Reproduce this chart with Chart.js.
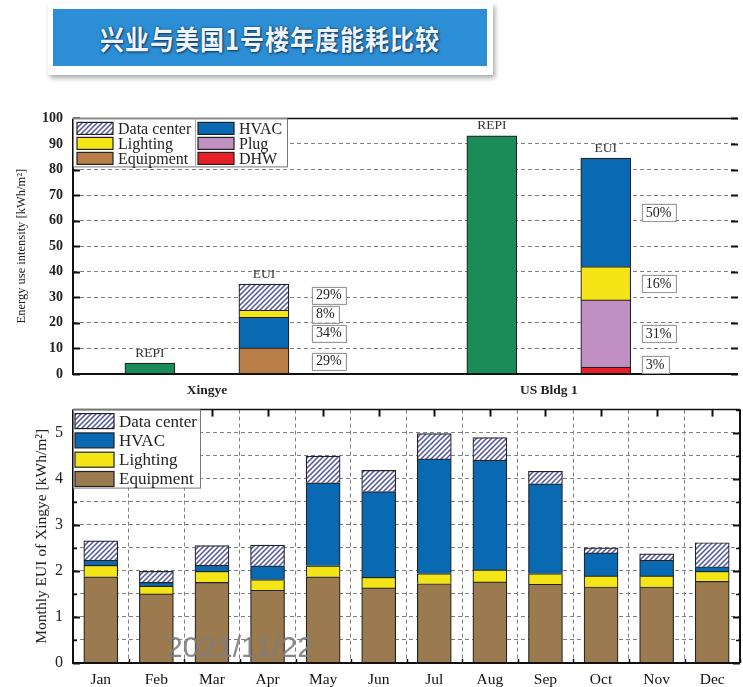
<!DOCTYPE html>
<html>
<head>
<meta charset="utf-8">
<script src="https://cdn.jsdelivr.net/npm/chart.js@4.4.0/dist/chart.umd.min.js"></script>
<style>
body { margin: 0; background: #fff; width: 743px; height: 687px; overflow: hidden; position: relative; }
#banner { position: absolute; left: 48px; top: 3px; width: 445px; height: 72px; background: #fff; box-shadow: 2px 3px 5px rgba(0,0,0,0.35); }
#banner div { position: absolute; left: 5px; top: 6px; width: 434px; height: 57px; background: #2c8fd6;
  color: #eef5ff; font: bold 24px "Noto Sans CJK SC"; text-align: center; line-height: 57px; letter-spacing: 1px;
  text-shadow: 0 0 2px #0d3a66, 1px 1px 2px #123a5e; }
#banner span { display: inline-block; transform: scaleY(1.15); }
#topChart { position: absolute; left: 0; top: 100px; }
#bottomChart { position: absolute; left: 0; top: 390px; }
#stamp { position: absolute; left: 166px; top: 632px; font: 30px "Liberation Sans"; line-height: 1; color: rgba(125,125,125,0.9); }
</style>
</head>
<body>
<div id="banner"><div><span>兴业与美国1号楼年度能耗比较</span></div></div>
<canvas id="topChart" width="743" height="300"></canvas>
<canvas id="bottomChart" width="743" height="297"></canvas>
<div id="stamp">2021/11/22</div>
<script>
// annual comparison (kWh/m2)
const groups = ['Xingye', 'US Bldg 1'];
const repiValues = [4.3, 93.2];
const xingyeParts = ['Equipment', 'HVAC', 'Lighting', 'Data center'];
const xingyeEUI = [10.2, 12.0, 2.8, 10.2];
const xingyeShare = ['29%', '34%', '8%', '29%'];
const usParts = ['DHW', 'Plug', 'Lighting', 'HVAC'];
const usEUI = [2.7, 26.3, 13.0, 42.5];
const usShare = ['3%', '31%', '16%', '50%'];
const topLegend = ['Data center', 'Lighting', 'Equipment', 'HVAC', 'Plug', 'DHW'];

// monthly Xingye (kWh/m2)
const months = ['Jan', 'Feb', 'Mar', 'Apr', 'May', 'Jun', 'Jul', 'Aug', 'Sep', 'Oct', 'Nov', 'Dec'];
const mEquipment = [1.87, 1.50, 1.75, 1.58, 1.87, 1.63, 1.72, 1.76, 1.71, 1.65, 1.65, 1.77];
const mLighting = [0.25, 0.17, 0.24, 0.23, 0.24, 0.23, 0.22, 0.26, 0.23, 0.24, 0.24, 0.22];
const mHVAC = [0.11, 0.08, 0.13, 0.30, 1.80, 1.86, 2.49, 2.38, 1.95, 0.50, 0.34, 0.10];
const mDataCenter = [0.42, 0.24, 0.43, 0.45, 0.58, 0.46, 0.55, 0.49, 0.27, 0.11, 0.14, 0.52];
const bottomLegend = ['Data center', 'HVAC', 'Lighting', 'Equipment'];

const serif = '"Liberation Serif", "DejaVu Serif", serif';

function hatch() {
    const c = document.createElement('canvas');
    c.width = 5; c.height = 5;
    const g = c.getContext('2d');
    g.fillStyle = '#fff';
    g.fillRect(0, 0, 5, 5);
    g.strokeStyle = '#4f54a6';
    g.lineWidth = 1.5;
    g.beginPath();
    g.moveTo(-1, 6); g.lineTo(6, -1);
    g.moveTo(-3.5, 3.5); g.lineTo(3.5, -3.5);
    g.moveTo(1.5, 8.5); g.lineTo(8.5, 1.5);
    g.stroke();
    return g.createPattern(c, 'repeat');
}
const dcFill = hatch();

const topColors = {
    'Data center': dcFill, 'HVAC': '#0a69b3', 'Lighting': '#f4e517',
    'Plug': '#c190c3', 'Equipment': '#b97d48', 'DHW': '#e81f27'
};
const bottomColors = {
    'Data center': dcFill, 'HVAC': '#0a69b3', 'Lighting': '#f4e517', 'Equipment': '#9c7a4f'
};

// inward ticks + frame
const framePlugin = {
    id: 'frame',
    afterDatasetsDraw(chart, args, opts) {
        const ctx = chart.ctx, a = chart.chartArea, y = chart.scales.y, x = chart.scales.x;
        const line = (x1, y1, x2, y2) => { ctx.beginPath(); ctx.moveTo(x1, y1); ctx.lineTo(x2, y2); ctx.stroke(); };
        ctx.save();
        ctx.strokeStyle = '#111';
        y.ticks.forEach(t => {
            const py = Math.round(y.getPixelForValue(t.value)) + 0.5;
            const major = t.label !== '';
            ctx.lineWidth = major ? 2 : 1.5;
            const len = major ? 7 : 4;
            line(a.left, py, a.left + len, py);
            line(a.right, py, a.right - len, py);
        });
        if (opts.monthTicks) {
            x.ticks.forEach((t, i) => {
                const px = Math.round(x.getPixelForValue(i)) + 0.5;
                ctx.lineWidth = 2;
                line(px, a.top, px, a.top + 7);
                const bx = Math.round(px + (x.getPixelForValue(1) - x.getPixelForValue(0)) / 2) + 0.5;
                ctx.lineWidth = 1.5;
                line(bx, a.bottom, bx, a.bottom - 4);
            });
        }
        ctx.lineWidth = 2;
        line(a.left, a.top, a.left, a.bottom);
        line(a.left - 1, a.bottom, a.right, a.bottom);
        ctx.lineWidth = 1.5;
        line(a.left, a.top, a.right, a.top);
        if (opts.rightBorder) { ctx.lineWidth = 2; line(a.right, a.top, a.right, a.bottom); }
        ctx.restore();
    }
};

function legendPlugin(names, colors, spec) {
    return {
        id: 'boxLegend',
        afterDraw(chart) {
            const ctx = chart.ctx, a = chart.chartArea;
            const x0 = a.left, y0 = a.top;
            ctx.save();
            ctx.fillStyle = '#fff';
            ctx.fillRect(x0, y0, spec.w, spec.h);
            ctx.strokeStyle = '#777';
            ctx.lineWidth = 1;
            ctx.strokeRect(x0 + 0.5, y0 + 0.5, spec.w, spec.h);
            if (spec.split) {
                ctx.strokeStyle = '#aaa';
                ctx.beginPath(); ctx.moveTo(x0 + spec.split + 0.5, y0); ctx.lineTo(x0 + spec.split + 0.5, y0 + spec.h); ctx.stroke();
            }
            ctx.font = spec.font + 'px ' + serif;
            ctx.textBaseline = 'middle';
            names.forEach((n, i) => {
                const col = Math.floor(i / spec.rows), row = i % spec.rows;
                const sx = x0 + spec.colX[col], cy = y0 + spec.rowY + row * spec.rowStep;
                ctx.fillStyle = colors[n];
                ctx.fillRect(sx, cy - spec.sh / 2, spec.sw, spec.sh);
                ctx.strokeStyle = '#222';
                ctx.lineWidth = 1.2;
                ctx.strokeRect(sx, cy - spec.sh / 2, spec.sw, spec.sh);
                ctx.fillStyle = '#222';
                ctx.fillText(n, sx + spec.sw + 5, cy + 1);
            });
            ctx.restore();
        }
    };
}

// REPI / EUI names and share boxes
const shareGap = [23, 11];
const barLabelPlugin = {
    id: 'barLabels',
    afterDatasetsDraw(chart) {
        const ctx = chart.ctx, a = chart.chartArea;
        const x = chart.scales.x, y = chart.scales.y;
        ctx.save();
        ctx.font = '13.5px ' + serif;
        ctx.fillStyle = '#333';
        ctx.textAlign = 'center';
        ctx.textBaseline = 'middle';
        groups.forEach((g, gi) => {
            ctx.fillText('REPI', x.getPixelForValue(gi * 3 + 1), y.getPixelForValue(repiValues[gi]) - 10);
            const total = (gi === 0 ? xingyeEUI : usEUI).reduce((s, v) => s + v, 0);
            ctx.fillText('EUI', x.getPixelForValue(gi * 3 + 2), y.getPixelForValue(total) - 10);
        });
        ctx.font = '14px ' + serif;
        groups.forEach((g, gi) => {
            const sets = chart.data.datasets.map((d, i) => ({ d, i })).filter(o => o.d.group === gi);
            let prev = a.bottom - 10 + 19;
            sets.forEach(o => {
                const el = chart.getDatasetMeta(o.i).data[0];
                let cy = Math.min((el.y + el.base) / 2, a.bottom - 10, prev - 19);
                prev = cy;
                const w = ctx.measureText(o.d.share).width + 8;
                const bx = el.x + el.width / 2 + shareGap[gi];
                ctx.fillStyle = '#fff';
                ctx.shadowColor = 'rgba(0,0,0,0.25)';
                ctx.shadowBlur = 2;
                ctx.fillRect(bx, cy - 8, w, 17);
                ctx.shadowBlur = 0;
                ctx.strokeStyle = '#999';
                ctx.lineWidth = 1;
                ctx.strokeRect(Math.round(bx) + 0.5, Math.round(cy - 8) + 0.5, Math.round(w), 17);
                ctx.fillStyle = '#222';
                ctx.fillText(o.d.share, bx + w / 2, cy + 1);
            });
        });
        ctx.restore();
    }
};

const topSets = [{
    label: 'REPI',
    data: groups.map((g, i) => ({ x: i * 3 + 1, y: repiValues[i] })),
    backgroundColor: '#1a8c57'
}];
xingyeParts.forEach((p, i) => topSets.push({
    label: p, group: 0, share: xingyeShare[i],
    data: [{ x: 2, y: xingyeEUI[i] }], backgroundColor: topColors[p]
}));
usParts.forEach((p, i) => topSets.push({
    label: p, group: 1, share: usShare[i],
    data: [{ x: 5, y: usEUI[i] }], backgroundColor: topColors[p]
}));
topSets.forEach(d => { d.borderColor = '#222'; d.borderWidth = 1.2; d.barThickness = 50; });

const gridColor = max => c => (c.tick.value === 0 || c.tick.value === max) ? 'rgba(0,0,0,0)' : '#808080';

new Chart(document.getElementById('topChart'), {
    type: 'bar',
    data: { datasets: topSets },
    options: {
        responsive: false,
        animation: false,
        layout: { padding: { top: 15, right: 5 } },
        plugins: { legend: { display: false }, tooltip: { enabled: false }, frame: { rightBorder: false } },
        scales: {
            x: {
                type: 'linear', min: 0.325, max: 6.16, stacked: true, offset: false,
                grid: { display: false },
                border: { display: false },
                afterBuildTicks: s => { s.ticks = groups.map((g, i) => ({ value: i * 3 + 1.5 })); },
                afterFit: s => { s.height = 26; },
                ticks: { callback: (v, i) => groups[i], font: { family: serif, size: 13.5, weight: 'bold' }, color: '#222', padding: 0, maxRotation: 0 }
            },
            y: {
                min: 0, max: 100, stacked: true,
                afterFit: s => { s.width = 73; },
                grid: { color: gridColor(100), lineWidth: 1, drawTicks: false },
                border: { display: false, dash: [4, 3] },
                ticks: { stepSize: 5, callback: v => v % 10 === 0 ? v : '', font: { family: serif, size: 14, weight: 'bold' }, color: '#222', padding: 10 },
                title: { display: true, text: 'Energy use intensity [kWh/m²]', font: { family: serif, size: 12.5 }, color: '#222', padding: { top: 14, bottom: 0 } }
            }
        }
    },
    plugins: [framePlugin, barLabelPlugin, legendPlugin(topLegend, topColors, {
        w: 214, h: 48, rows: 3, colX: [4, 125], rowY: 10, rowStep: 15, sw: 36, sh: 12, font: 16, split: 122
    })]
});

const bottomSets = [
    ['Equipment', mEquipment], ['Lighting', mLighting], ['HVAC', mHVAC], ['Data center', mDataCenter]
].map(([name, vals]) => ({
    label: name, data: vals, backgroundColor: bottomColors[name],
    borderColor: '#222', borderWidth: 1.2, barThickness: 34
}));

new Chart(document.getElementById('bottomChart'), {
    type: 'bar',
    data: { labels: months, datasets: bottomSets },
    options: {
        responsive: false,
        animation: false,
        layout: { padding: { top: 15, right: 3 } },
        plugins: { legend: { display: false }, tooltip: { enabled: false }, frame: { rightBorder: true, monthTicks: true } },
        scales: {
            x: {
                stacked: true,
                grid: { color: '#808080', drawTicks: false, offset: true },
                border: { display: false, dash: [4, 3] },
                afterFit: s => { s.height = 24; },
                ticks: { font: { family: serif, size: 15.5 }, color: '#111', padding: 8, maxRotation: 0 }
            },
            y: {
                min: 0, max: 5.5, stacked: true,
                afterFit: s => { s.width = 73; },
                grid: { color: gridColor(5.5), lineWidth: 1, drawTicks: false },
                border: { display: false, dash: [4, 3] },
                ticks: { stepSize: 0.5, callback: v => Number.isInteger(v) ? v : '', font: { family: serif, size: 16 }, color: '#222', padding: 10 },
                title: { display: true, text: 'Monthly EUI of Xingye [kWh/m²]', font: { family: serif, size: 15.5 }, color: '#222', padding: { top: 33, bottom: 0 } }
            }
        }
    },
    plugins: [framePlugin, legendPlugin(bottomLegend, bottomColors, {
        w: 127, h: 78, rows: 4, colX: [2], rowY: 11.5, rowStep: 19.3, sw: 39, sh: 15, font: 17
    })]
});
</script>
</body>
</html>
